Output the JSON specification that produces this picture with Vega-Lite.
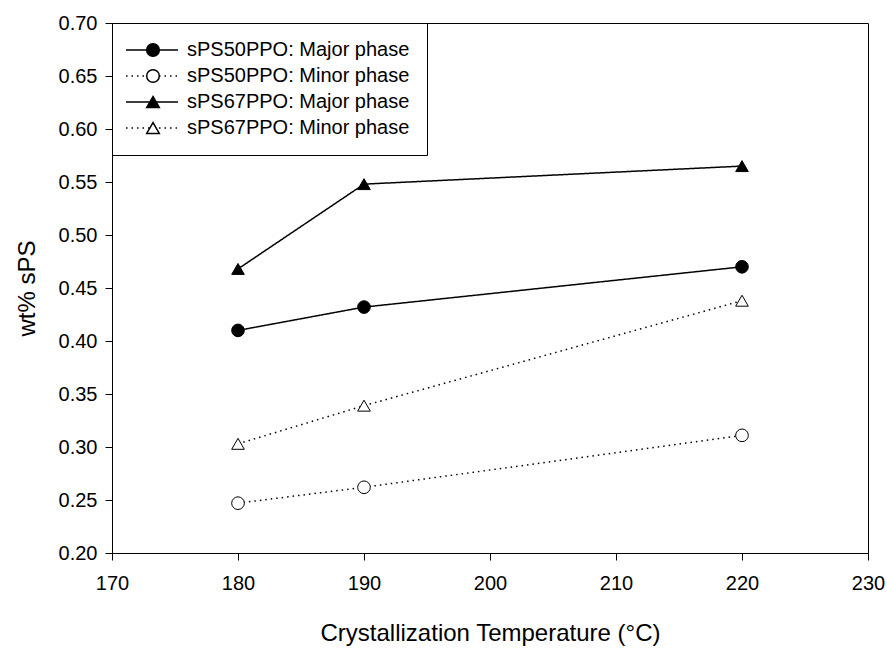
{
  "$schema": "https://vega.github.io/schema/vega-lite/v6.json",
  "width": 756,
  "height": 530,
  "autosize": {"type": "none"},
  "padding": {"left": 112, "top": 23, "right": 19, "bottom": 96},
  "background": "white",
  "config": {
    "font": "Liberation Sans",
    "view": {"stroke": "black", "strokeWidth": 1},
    "axis": {
      "grid": false,
      "domainColor": "black",
      "domainWidth": 1,
      "tickColor": "black",
      "tickWidth": 1,
      "tickSize": 7,
      "labelColor": "black",
      "labelFontSize": 20,
      "titleColor": "black",
      "titleFontSize": 24,
      "titleFontWeight": "normal"
    }
  },
  "data": {
    "values": [
      {"series": "sPS50PPO: Major phase", "temp": 180, "wt": 0.410},
      {"series": "sPS50PPO: Major phase", "temp": 190, "wt": 0.432},
      {"series": "sPS50PPO: Major phase", "temp": 220, "wt": 0.470},
      {"series": "sPS50PPO: Minor phase", "temp": 180, "wt": 0.247},
      {"series": "sPS50PPO: Minor phase", "temp": 190, "wt": 0.262},
      {"series": "sPS50PPO: Minor phase", "temp": 220, "wt": 0.311},
      {"series": "sPS67PPO: Major phase", "temp": 180, "wt": 0.468},
      {"series": "sPS67PPO: Major phase", "temp": 190, "wt": 0.548},
      {"series": "sPS67PPO: Major phase", "temp": 220, "wt": 0.565},
      {"series": "sPS67PPO: Minor phase", "temp": 180, "wt": 0.303},
      {"series": "sPS67PPO: Minor phase", "temp": 190, "wt": 0.339},
      {"series": "sPS67PPO: Minor phase", "temp": 220, "wt": 0.438}
    ]
  },
  "encoding": {
    "x": {
      "field": "temp",
      "type": "quantitative",
      "title": "Crystallization Temperature (°C)",
      "scale": {"domain": [170, 230], "nice": false, "zero": false},
      "axis": {
        "values": [170, 180, 190, 200, 210, 220, 230],
        "labelFlush": false,
        "labelPadding": 13,
        "titlePadding": 28
      }
    },
    "y": {
      "field": "wt",
      "type": "quantitative",
      "title": "wt% sPS",
      "scale": {"domain": [0.2, 0.7], "nice": false, "zero": false},
      "axis": {
        "values": [0.2, 0.25, 0.3, 0.35, 0.4, 0.45, 0.5, 0.55, 0.6, 0.65, 0.7],
        "format": ".2f",
        "labelFlush": false,
        "labelPadding": 8,
        "titlePadding": 19
      }
    }
  },
  "layer": [
    {
      "mark": {"type": "line", "color": "black", "strokeWidth": 1.5},
      "encoding": {
        "strokeDash": {
          "field": "series",
          "type": "nominal",
          "scale": {
            "domain": ["sPS50PPO: Major phase", "sPS50PPO: Minor phase", "sPS67PPO: Major phase", "sPS67PPO: Minor phase"],
            "range": [[1, 0], [1.5, 4], [1, 0], [1.5, 4]]
          },
          "legend": {
            "title": null,
            "orient": "none",
            "legendX": 0,
            "legendY": 17,
            "direction": "vertical",
            "padding": 0,
            "clipHeight": 20,
            "symbolType": "stroke",
            "symbolSize": 2700,
            "symbolOffset": 13,
            "symbolStrokeWidth": 1.5,
            "symbolStrokeColor": "black",
            "labelFontSize": 20,
            "labelExpr": "''",
            "rowPadding": 6
          }
        }
      }
    },
    {
      "mark": {"type": "point", "stroke": "black", "strokeWidth": 1, "opacity": 1, "size": 160},
      "encoding": {
        "shape": {
          "field": "series",
          "type": "nominal",
          "scale": {"range": ["circle", "circle", "triangle-up", "triangle-up"]},
          "legend": {
            "title": null,
            "orient": "none",
            "legendX": 0,
            "legendY": 0,
            "direction": "vertical",
            "padding": 17,
            "strokeColor": "black",
            "symbolSize": 160,
            "symbolOffset": 14,
            "symbolOpacity": 1,
            "labelFontSize": 20,
            "labelColor": "black",
            "labelLimit": 400,
            "labelOffset": 24,
            "rowPadding": 6,
            "encode": {"symbols": {"update": {"stroke": {"value": "black"}, "strokeWidth": {"value": 1}}}}
          }
        },
        "fill": {
          "field": "series",
          "type": "nominal",
          "scale": {"range": ["black", "white", "black", "white"]},
          "legend": {
            "title": null,
            "orient": "none",
            "legendX": 0,
            "legendY": 0,
            "direction": "vertical",
            "padding": 17,
            "strokeColor": "black",
            "symbolSize": 160,
            "symbolOffset": 14,
            "symbolOpacity": 1,
            "labelFontSize": 20,
            "labelColor": "black",
            "labelLimit": 400,
            "labelOffset": 24,
            "rowPadding": 6,
            "encode": {"symbols": {"update": {"stroke": {"value": "black"}, "strokeWidth": {"value": 1}}}}
          }
        }
      }
    }
  ]
}
